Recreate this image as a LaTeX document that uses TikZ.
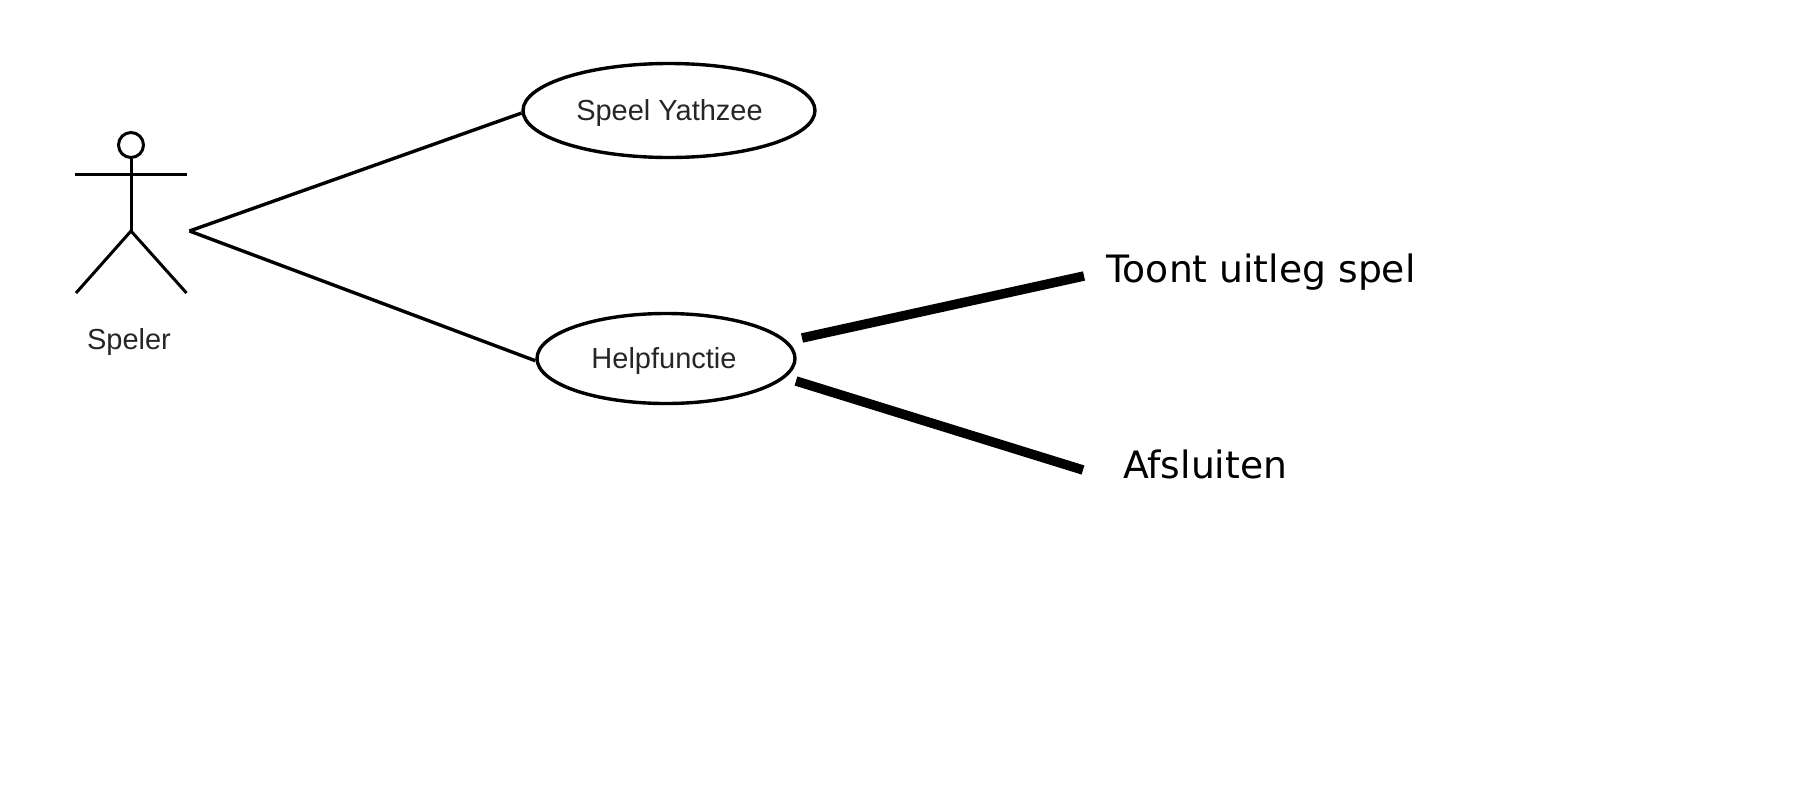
\documentclass[tikz,border=0pt]{standalone}
\usepackage{fontspec}
\setmainfont{DejaVu Sans}
\newfontfamily\umlfont{Liberation Sans}
\usetikzlibrary{shapes.geometric}
\tikzset{
  usecase/.style={draw=black,ellipse,line width=3.4pt,inner sep=0pt},
  umltext/.style={font=\umlfont\fontsize{29}{32}\selectfont,inner sep=0pt,text=black!85},
  notetext/.style={font=\fontsize{37.7}{40}\selectfont,inner sep=0pt,anchor=base west,text=black},
  stick/.style={draw=black,line width=3pt},
  assoc/.style={draw=black,line width=3.4pt},
  heavy/.style={draw=black,line width=9.5pt}
}
\begin{document}
\begin{tikzpicture}[x=1pt,y=-1pt]
\useasboundingbox (0,0) rectangle (1808,804);
% actor
\node[draw=black,circle,line width=3pt,minimum size=25pt,inner sep=0pt] (head) at (131,145) {};
\coordinate (hip) at (131,231);
\coordinate (armL) at (75,174);
\coordinate (armR) at (186.5,174);
\coordinate (footL) at (76,293);
\coordinate (footR) at (186.5,293);
\coordinate (hub) at (189.5,231);
\draw[stick] (head) -- (hip);
\draw[stick] (armL) -- (armR);
\draw[stick] (footL) -- (hip) -- (footR);
\node[umltext] (speler) at (129,342) {Speler};
% use cases
\node[usecase,minimum width=292pt,minimum height=94pt] (yath) at (669,110.5) {};
\node[umltext] (yathtxt) at (669.5,113) {Speel Yathzee};
\node[usecase,minimum width=258pt,minimum height=90pt] (help) at (666,358.5) {};
\node[umltext] (helptxt) at (664,361) {Helpfunctie};
\draw[assoc] (hub) -- (yath.181);
\draw[assoc] (hub) -- (help.181);
% added notes
\coordinate (a1) at (802,338);
\coordinate (a2) at (1084,276);
\coordinate (b1) at (796,381);
\coordinate (b2) at (1083,470);
\draw[heavy] (a1) -- (a2);
\draw[heavy] (b1) -- (b2);
\node[notetext] (toont) at (1106,282) {Toont uitleg spel};
\node[notetext] (afsl) at (1123,478) {Afsluiten};
\end{tikzpicture}
\end{document}
